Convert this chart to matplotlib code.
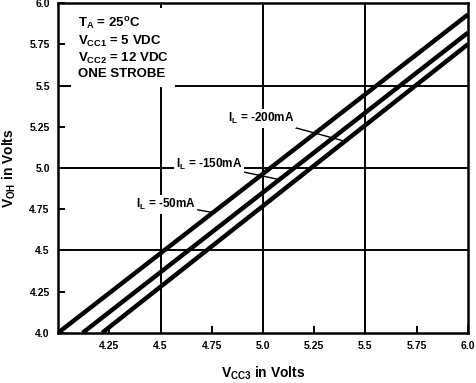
import numpy as np
import matplotlib.pyplot as plt

plt.rcParams['font.family'] = ['Liberation Sans', 'DejaVu Sans']
plt.rcParams['font.weight'] = 'bold'
plt.rcParams['mathtext.fontset'] = 'custom'
plt.rcParams['mathtext.rm'] = 'Liberation Sans:bold'

# Кривые: концы прямых (VCC3, VOH)
labels = ['I$_\\mathregular{L}$ = -50mA', 'I$_\\mathregular{L}$ = -150mA', 'I$_\\mathregular{L}$ = -200mA']
x_pts = [[4.0, 6.0], [4.12, 6.0], [4.215, 6.0]]
y_pts = [[4.0, 5.93], [4.0, 5.82], [4.0, 5.75]]

# положение подписей и точка стрелки на кривой
label_xy = [(4.38, 4.78), (4.575, 5.02), (4.83, 5.30)]
arrow_x = [4.756, 5.08, 5.40]

xticks = [4.25, 4.5, 4.75, 5.0, 5.25, 5.5, 5.75, 6.0]
xtick_labels = ['4.25', '4.5', '4.75', '5.0', '5.25', '5.5', '5.75', '6.0']
yticks = [4.0, 4.25, 4.5, 4.75, 5.0, 5.25, 5.5, 5.75, 6.0]
ytick_labels = ['4.0', '4.25', '4.5', '4.75', '5.0', '5.25', '5.5', '5.75', '6.0']

fig = plt.figure(figsize=(4.76, 3.83), dpi=100)
ax = fig.add_axes([0.122, 0.131, 0.861, 0.861])

for xs, ys in zip(x_pts, y_pts):
    ax.plot(xs, ys, color='black', lw=3.2, solid_capstyle='butt', zorder=3)

for g in [4.5, 5.0, 5.5]:
    ax.axhline(g, color='black', lw=1.4, zorder=1)
    ax.axvline(g, color='black', lw=1.4, zorder=1)

for lab, (tx, ty), axp, xs, ys in zip(labels, label_xy, arrow_x, x_pts, y_pts):
    ay = np.interp(axp, xs, ys)
    ax.annotate(lab, xy=(axp, ay), xytext=(tx, ty), ha='left', va='center',
                fontsize=8.5, fontweight='bold', zorder=4,
                bbox=dict(boxstyle='square,pad=0.15', fc='white', ec='none'),
                arrowprops=dict(arrowstyle='-', lw=1.0, color='black', shrinkA=0, shrinkB=0))

ax.text(4.095, 5.925, 'T$_\\mathregular{A}$ = 25$^\\mathregular{o}$C\n'
        'V$_\\mathregular{CC1}$ = 5 VDC\n'
        'V$_\\mathregular{CC2}$ = 12 VDC\n'
        'ONE STROBE',
        ha='left', va='top', fontsize=9.5, fontweight='bold', linespacing=1.2, zorder=4,
        bbox=dict(boxstyle='square,pad=0.5', fc='white', ec='none'))

ax.set_xlim(4.0, 6.0)
ax.set_ylim(4.0, 6.0)
ax.set_xticks(xticks)
ax.set_xticklabels(xtick_labels)
ax.set_yticks(yticks)
ax.set_yticklabels(ytick_labels)
ax.tick_params(direction='in', length=5, width=1.4, labelsize=7.5, pad=6)
for lab in ax.get_xticklabels() + ax.get_yticklabels():
    lab.set_fontweight('bold')
for sp in ax.spines.values():
    sp.set_linewidth(1.8)

ax.set_xlabel('V$_\\mathregular{CC3}$ in Volts', fontsize=10, fontweight='bold', labelpad=10)
ax.set_ylabel('V$_\\mathregular{OH}$ in Volts', fontsize=10, fontweight='bold', labelpad=8)

fig.savefig('out.png', dpi=100)
